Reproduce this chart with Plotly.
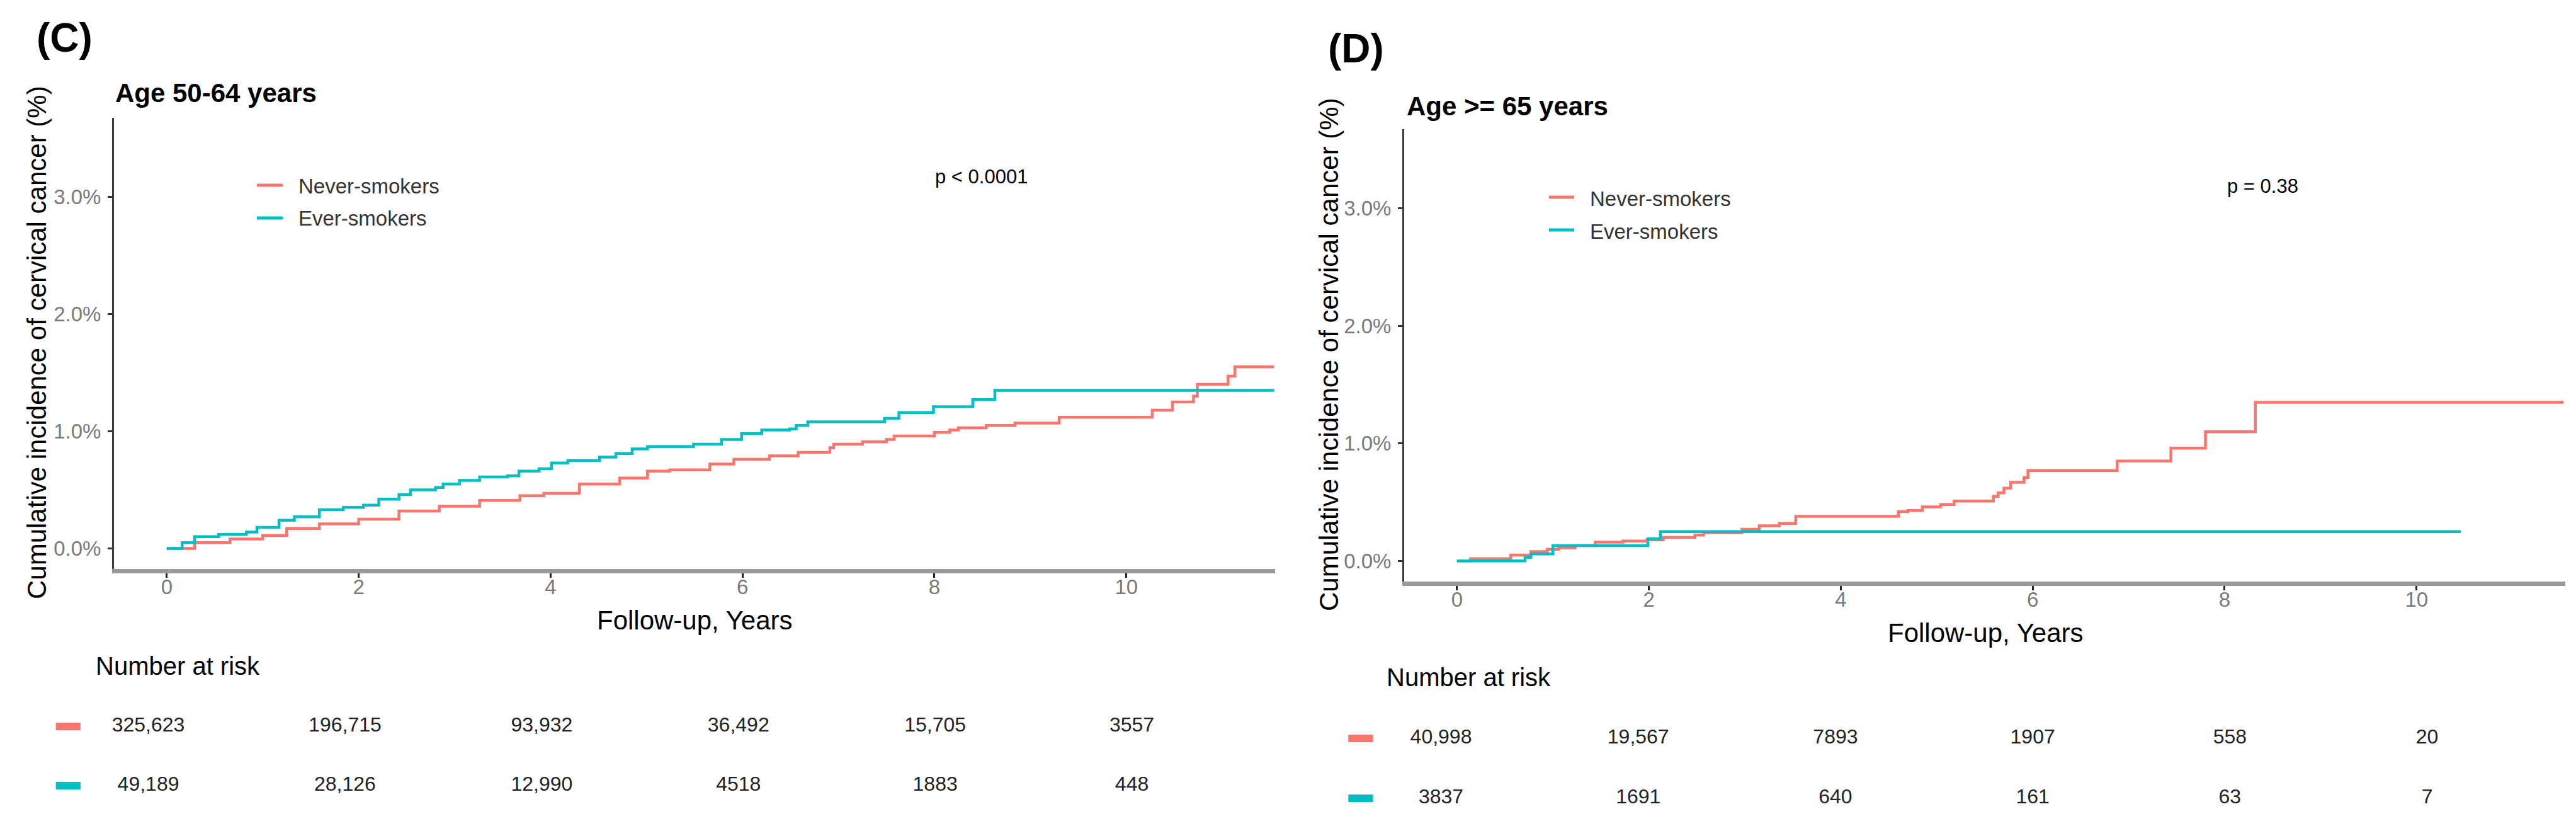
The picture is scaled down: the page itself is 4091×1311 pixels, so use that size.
import plotly.graph_objects as go

W, H = 4091, 1311
RED = "#F8766D"
TEAL = "#00BFC4"
FONT = "Liberation Sans, Arial, sans-serif"

# ---------------- data ----------------
c_never_t = [0, 0.29, 0.66, 1.0, 1.25, 1.59, 2.0, 2.42, 2.84, 3.26, 3.68, 3.93, 4.30, 4.72, 5.01,
             5.24, 5.66, 5.91, 6.28, 6.58, 6.91, 6.95, 7.25, 7.50, 7.58, 8.0, 8.16, 8.25, 8.54,
             8.84, 9.30, 10.27, 10.48, 10.70, 10.74, 11.06, 11.13, 11.54]
c_never_y = [0, 0.05, 0.08, 0.11, 0.17, 0.21, 0.25, 0.32, 0.36, 0.41, 0.45, 0.47, 0.55, 0.60, 0.66,
             0.67, 0.72, 0.76, 0.79, 0.82, 0.86, 0.89, 0.91, 0.93, 0.96, 0.99, 1.01, 1.03, 1.05,
             1.07, 1.12, 1.18, 1.25, 1.30, 1.40, 1.47, 1.55, 1.55]

c_ever_t = [0, 0.16, 0.29, 0.54, 0.83, 0.94, 1.17, 1.33, 1.59, 1.84, 2.05, 2.21, 2.42, 2.54, 2.80,
            2.88, 3.05, 3.26, 3.55, 3.67, 3.88, 4.01, 4.18, 4.51, 4.68, 4.85, 5.01, 5.32, 5.49,
            5.78, 5.99, 6.20, 6.49, 6.56, 6.68, 7.46, 7.48, 7.63, 7.99, 8.40, 8.63, 11.54]
c_ever_y = [0, 0.05, 0.10, 0.12, 0.14, 0.18, 0.24, 0.27, 0.33, 0.35, 0.37, 0.42, 0.46, 0.50, 0.52,
            0.55, 0.58, 0.61, 0.62, 0.66, 0.68, 0.73, 0.75, 0.78, 0.81, 0.85, 0.87, 0.87, 0.89,
            0.93, 0.98, 1.01, 1.02, 1.05, 1.08, 1.08, 1.11, 1.16, 1.21, 1.27, 1.35, 1.35]

d_never_t = [0, 0.14, 0.56, 0.77, 0.94, 1.06, 1.23, 1.44, 1.73, 1.98, 2.15, 2.48, 2.57, 2.97, 3.15,
             3.36, 3.53, 4.60, 4.70, 4.85, 5.04, 5.18, 5.59, 5.64, 5.70, 5.77, 5.91, 5.95, 6.88,
             7.44, 7.80, 8.32, 11.53]
d_never_y = [0, 0.02, 0.05, 0.08, 0.10, 0.11, 0.13, 0.16, 0.17, 0.18, 0.20, 0.22, 0.24, 0.27, 0.30,
             0.32, 0.38, 0.42, 0.43, 0.46, 0.48, 0.51, 0.55, 0.58, 0.62, 0.67, 0.71, 0.77, 0.85,
             0.96, 1.10, 1.35, 1.35]

d_ever_t = [0, 0.71, 0.77, 1.0, 1.99, 2.12, 10.46]
d_ever_y = [0, 0.03, 0.06, 0.13, 0.19, 0.25, 0.25]

risk_years = [0, 2, 4, 6, 8, 10]
c_risk_never = [325623, 196715, 93932, 36492, 15705, 3557]
c_risk_ever = [49189, 28126, 12990, 4518, 1883, 448]
d_risk_never = [40998, 19567, 7893, 1907, 558, 20]
d_risk_ever = [3837, 1691, 640, 161, 63, 7]

y_ticks = [0, 1, 2, 3]
y_ticklabels = ["0.0%", "1.0%", "2.0%", "3.0%"]
x_ticks = [0, 2, 4, 6, 8, 10]
groups = ["Never-smokers", "Ever-smokers"]


def fmt(n):
    return f"{n:,}" if n >= 10000 else str(n)


def px_x(p):
    return p / W


def px_y(p):
    return 1 - p / H


fig = go.Figure()

# curves
for xs, ys, col, xa, ya in [
    (c_never_t, c_never_y, RED, "x", "y"),
    (c_ever_t, c_ever_y, TEAL, "x", "y"),
    (d_never_t, d_never_y, RED, "x2", "y2"),
    (d_ever_t, d_ever_y, TEAL, "x2", "y2"),
]:
    fig.add_trace(go.Scatter(x=xs, y=ys, mode="lines", line=dict(color=col, width=4.5, shape="hv"),
                             xaxis=xa, yaxis=ya, showlegend=False, cliponaxis=True))

# risk tables
KEY_T = -0.815
for vals, row, col, xa, ya in [
    (c_risk_never, 2, RED, "x3", "y3"),
    (c_risk_ever, 1, TEAL, "x3", "y3"),
    (d_risk_never, 2, RED, "x4", "y4"),
    (d_risk_ever, 1, TEAL, "x4", "y4"),
]:
    fig.add_trace(go.Scatter(x=risk_years, y=[row] * len(vals), mode="text",
                             text=[fmt(v) for v in vals],
                             textfont=dict(family=FONT, size=32, color="#222222"),
                             xaxis=xa, yaxis=ya, showlegend=False, cliponaxis=False))
    fig.add_trace(go.Scatter(x=[KEY_T], y=[row], mode="markers",
                             marker=dict(symbol="line-ew", size=28,
                                         line=dict(color=col, width=12)),
                             xaxis=xa, yaxis=ya, showlegend=False, cliponaxis=False))

tickfont = dict(family=FONT, size=33, color="#7a7a7a")


def main_x(domain):
    return dict(domain=domain, range=[-0.55, 11.55], showgrid=False, zeroline=False,
                showline=True, linecolor="#9a9a9a", linewidth=7,
                ticks="outside", ticklen=7, tickwidth=3, tickcolor="#222222",
                tickvals=x_ticks, tickfont=tickfont, ticklabelstandoff=-14)


def main_y(domain, anchor):
    return dict(domain=domain, range=[-0.175, 3.675], showgrid=False, zeroline=False,
                showline=True, linecolor="#3c3c3c", linewidth=3,
                ticks="outside", ticklen=7, tickwidth=3, tickcolor="#333333",
                tickvals=y_ticks, ticktext=y_ticklabels, tickfont=tickfont,
                anchor=anchor, ticklabelstandoff=4)


hidden = dict(visible=False, showgrid=False, zeroline=False)

fig.update_layout(
    width=W, height=H,
    margin=dict(l=0, r=0, t=0, b=0),
    paper_bgcolor="white", plot_bgcolor="white",
    showlegend=False,
    xaxis=dict(**main_x([px_x(181), px_x(2025)]), anchor="y"),
    yaxis=main_y([px_y(903), px_y(187)], "x"),
    xaxis2=dict(**main_x([px_x(2230), px_x(4074)]), anchor="y2"),
    yaxis2=main_y([px_y(923), px_y(205)], "x2"),
    xaxis3=dict(**hidden, domain=[0, px_x(2025)], range=[-1.508, 11.456], anchor="y3"),
    yaxis3=dict(**hidden, domain=[0, px_y(1000)], range=[0.319, 3.628], anchor="x3"),
    xaxis4=dict(**hidden, domain=[px_x(2040), 1], range=[-1.587, 11.510], anchor="y4"),
    yaxis4=dict(**hidden, domain=[0, px_y(1000)], range=[0.537, 3.811], anchor="x4"),
)

ann = []


def text(x, y, s, size, color="#000000", bold=False, xanchor="left", angle=0):
    ann.append(dict(x=px_x(x), y=px_y(y), xref="paper", yref="paper", text=s, showarrow=False,
                    xanchor=xanchor, yanchor="middle", textangle=angle,
                    font=dict(family=FONT, size=size, color=color,
                              weight="bold" if bold else "normal")))


# panel labels and titles
text(56, 60, "(C)", 64, bold=True)
text(2107, 77, "(D)", 64, bold=True)
text(181, 148, "Age 50-64 years", 42, bold=True)
text(2232, 168, "Age &gt;= 65 years", 42, bold=True)
# axis titles
text(58, 544, "Cumulative incidence of cervical cancer (%)", 42, xanchor="center", angle=-90)
text(2110, 563, "Cumulative incidence of cervical cancer (%)", 42, xanchor="center", angle=-90)
text(1103, 984, "Follow-up, Years", 42, xanchor="center")
text(3153, 1004, "Follow-up, Years", 42, xanchor="center")
# p values
text(1483, 281, "p &lt; 0.0001", 31)
text(3535, 295, "p = 0.38", 31)
# legends (text)
text(472, 296, groups[0], 33, color="#333333")
text(472, 347, groups[1], 33, color="#333333")
text(2523, 315, groups[0], 33, color="#333333")
text(2523, 367, groups[1], 33, color="#333333")
# number at risk headers
text(150, 1057, "Number at risk", 40)
text(2200, 1075, "Number at risk", 40)

fig.update_layout(annotations=ann)

# legend key lines
shapes = []
for x0, x1, y, col in [(408, 449, 294, RED), (408, 449, 346, TEAL),
                       (2460, 2500, 313, RED), (2460, 2500, 365, TEAL)]:
    shapes.append(dict(type="line", xref="paper", yref="paper", x0=px_x(x0), x1=px_x(x1),
                       y0=px_y(y), y1=px_y(y), line=dict(color=col, width=5)))
fig.update_layout(shapes=shapes)

fig.write_html("out.html", config={"displayModeBar": False},
               post_script="document.body.style.margin='0';document.body.style.overflow='hidden';")
